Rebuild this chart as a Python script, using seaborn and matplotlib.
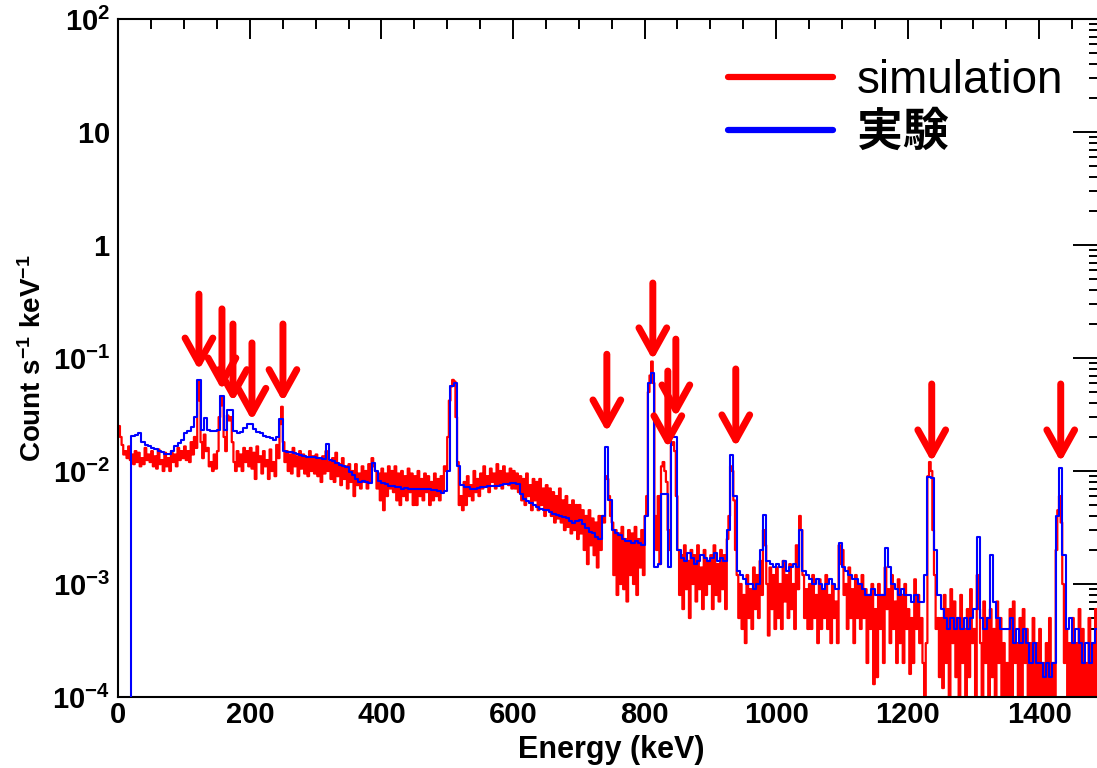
import numpy as np
import pandas as pd
import matplotlib
matplotlib.use("Agg")
import matplotlib.pyplot as plt
import seaborn as sns
from matplotlib.ticker import MultipleLocator, LogLocator, NullFormatter
from matplotlib.lines import Line2D

# ---------------- data (values in units of 1e-4 count s^-1 keV^-1) -------------
EXP_BIN_KEV = 5.0   # experiment histogram bin width
SIM_BIN_KEV = 2.5   # simulation histogram bin width

exp_e4 = [
    0, 0, 0, 0, 205, 210, 215, 180, 170, 165,
    160, 155, 150, 148, 142, 140, 150, 165, 178, 190,
    215, 225, 245, 300, 640, 230, 295, 230, 225, 225,
    230, 460, 230, 350, 345, 225, 215, 220, 240, 262,
    258, 235, 222, 215, 205, 200, 195, 190, 200, 290,
    150, 148, 146, 143, 140, 138, 136, 134, 133, 132,
    131, 130, 128, 172, 125, 122, 118, 114, 110, 108,
    98, 92, 85, 80, 82, 80, 78, 118, 100, 82,
    78, 76, 74, 74, 72, 72, 70, 71, 70, 70,
    70, 70, 69, 70, 70, 68, 68, 66, 64, 66,
    100, 560, 600, 110, 75, 72, 72, 70, 70, 71,
    72, 72, 73, 73, 74, 74, 75, 76, 77, 78,
    78, 76, 62, 56, 54, 52, 50, 48, 46, 45,
    45, 43, 42, 41, 40, 39, 38, 36, 35, 36,
    37, 34, 31, 29, 28, 26, 25, 40, 163, 55,
    30, 28, 27, 25, 24, 24, 23, 24, 23, 22,
    40, 600, 740, 14, 15, 63, 63, 14, 200, 200,
    20, 17, 16, 19, 17, 15, 16, 18, 17, 16,
    17, 19, 16, 17, 16, 30, 138, 60, 13, 12,
    11, 10, 10, 9, 10, 20, 41, 16, 15, 14,
    15, 14, 16, 13, 14, 15, 14, 30, 13, 12,
    11, 10, 11, 10, 9, 10, 11, 10, 9, 23,
    14, 13, 12, 11, 11, 10, 9, 8, 8, 9,
    8, 8, 8, 21, 14, 10, 9, 8, 9, 8,
    8, 7, 8, 7, 7, 12, 89, 86, 20, 8,
    6, 5, 4, 5, 4, 5, 4, 5, 4, 5,
    6, 26, 5, 4, 5, 18, 7, 5, 4, 4,
    4, 5, 3, 4, 3, 4, 3, 2, 3, 2,
    2, 1.5, 2, 1.5, 2, 40, 106, 18, 4, 5,
    3, 4, 3, 2, 3, 2, 3, 4, 3, 2,
]

sim_e4 = [
    250, 200, 170, 140, 150, 130, 165, 125, 140, 115, 150, 120, 145, 110, 130, 115, 160, 125, 140, 120,
    150, 110, 135, 105, 155, 115, 125, 100, 145, 110, 130, 100, 150, 120, 140, 110, 160, 125, 150, 130,
    165, 125, 150, 120, 180, 140, 200, 160, 420, 620, 180, 130, 210, 150, 160, 110, 120, 100, 140, 105,
    150, 300, 460, 380, 200, 150, 310, 280, 300, 180, 120, 100, 150, 110, 140, 100, 160, 120, 150, 110,
    160, 105, 145, 85, 165, 120, 135, 95, 150, 110, 125, 85, 155, 100, 120, 90, 170, 130, 260, 370,
    180, 120, 150, 100, 140, 95, 160, 110, 135, 90, 150, 105, 140, 95, 130, 90, 150, 100, 135, 95,
    140, 90, 125, 80, 135, 95, 150, 100, 120, 85, 130, 80, 145, 90, 115, 75, 130, 85, 110, 70,
    115, 80, 100, 60, 115, 75, 95, 70, 110, 80, 100, 70, 115, 80, 130, 110, 100, 70, 95, 55,
    105, 45, 95, 60, 110, 70, 100, 65, 110, 55, 95, 50, 100, 60, 90, 55, 105, 65, 95, 50,
    90, 50, 100, 60, 85, 55, 95, 65, 90, 50, 80, 55, 95, 60, 85, 55, 90, 65, 110, 100,
    200, 420, 560, 640, 620, 300, 120, 50, 60, 45, 80, 50, 90, 60, 75, 55, 100, 65, 85, 60,
    95, 70, 110, 75, 90, 65, 105, 80, 95, 70, 115, 75, 100, 70, 110, 80, 95, 75, 105, 70,
    100, 70, 95, 65, 90, 55, 85, 50, 95, 60, 75, 45, 85, 55, 80, 45, 85, 50, 70, 40,
    75, 45, 70, 40, 65, 35, 60, 38, 70, 35, 55, 30, 60, 32, 50, 28, 55, 30, 50, 25,
    50, 28, 45, 20, 40, 15, 45, 22, 38, 18, 35, 14, 40, 20, 40, 35, 90, 85, 60, 40,
    35, 12, 30, 8, 28, 10, 32, 9, 25, 7, 30, 12, 28, 10, 32, 8, 25, 14, 30, 12,
    40, 60, 500, 700, 930, 600, 40, 20, 60, 15, 110, 120, 100, 80, 30, 20, 170, 180, 150, 60,
    20, 8, 18, 6, 22, 9, 16, 5, 20, 10, 18, 7, 22, 9, 14, 6, 20, 8, 16, 10,
    18, 6, 22, 8, 15, 7, 20, 9, 18, 6, 25, 40, 110, 100, 55, 20, 12, 5, 10, 4,
    8, 3, 12, 5, 9, 4, 14, 6, 12, 5, 16, 8, 30, 22, 10, 3.5, 14, 6, 12, 4,
    14, 5, 10, 4, 16, 7, 12, 5, 15, 6, 10, 4, 22, 9, 40, 30, 12, 5, 9, 4,
    10, 4, 12, 5, 8, 3, 11, 4, 9, 5, 12, 4, 8, 3, 10, 5, 7, 3, 22, 15,
    20, 8, 10, 4, 14, 5, 9, 3, 12, 5, 10, 4, 12, 5, 9, 2, 8, 4, 10, 1.3,
    6, 1.5, 10, 4, 8, 2, 14, 6, 9, 3, 12, 4, 7, 2, 11, 3, 8, 2, 10, 4,
    6, 1.6, 5, 2, 11, 4, 8, 3, 5, 2, 0, 3, 90, 120, 100, 30, 12, 4, 5, 1.5,
    5, 1.2, 8, 2, 6, 1, 9, 3, 7, 1.5, 5, 1, 8, 2, 4, 0.8, 6, 1.5, 9, 3,
    4, 1, 12, 6, 3, 0.8, 7, 2, 5, 0.5, 6, 1.5, 4, 0, 7, 2, 5, 0.8, 3, 0,
    2, 0, 6, 1, 7, 2, 3, 0, 5, 1, 6, 2, 4, 0.5, 3, 0, 5, 1, 3, 0,
    4, 0, 2, 0, 3, 0, 5, 1, 2, 0, 20, 45, 60, 35, 10, 2, 4, 0, 3, 0.5,
    5, 0, 3, 0, 6, 1, 4, 0, 2, 0, 5, 1, 3, 0, 6, 1, 2, 0, 4, 0,
]

# peak markers (energy in keV, arrow tip value, arrow tail value)
arrow_energy = [122.6, 157.6, 174.3, 203.2, 250.3, 742.7, 812.6, 835.4, 847.6, 938.7, 1236.6, 1432.7]
arrow_tip = [0.078, 0.052, 0.041, 0.028, 0.041, 0.0221, 0.096, 0.016, 0.030, 0.0163, 0.012, 0.012]
arrow_tail = [0.368, 0.272, 0.20, 0.136, 0.20, 0.108, 0.461, 0.0767, 0.147, 0.080, 0.0589, 0.0589]

x_ticks = [0, 200, 400, 600, 800, 1000, 1200, 1400]
y_ticks = [1e-4, 1e-3, 1e-2, 1e-1, 1, 10, 100]
y_tick_labels = [r"$\mathbf{10^{-4}}$", r"$\mathbf{10^{-3}}$", r"$\mathbf{10^{-2}}$",
                 r"$\mathbf{10^{-1}}$", r"$\mathbf{1}$", r"$\mathbf{10}$", r"$\mathbf{10^{2}}$"]
series_labels = ["simulation", "実験"]
series_colors = ["#ff0000", "#0000ff"]

# ---------------- style ----------------
sns.set_style("white")
plt.rcParams["font.family"] = ["Liberation Sans", "Noto Sans CJK JP"]
plt.rcParams["mathtext.fontset"] = "custom"
plt.rcParams["mathtext.rm"] = "Liberation Sans"
plt.rcParams["mathtext.bf"] = "Liberation Sans:bold"
plt.rcParams["mathtext.it"] = "Liberation Sans:italic"
for k in ["text.color", "axes.labelcolor", "xtick.color", "ytick.color", "axes.edgecolor"]:
    plt.rcParams[k] = "black"

exp_vals = np.asarray(exp_e4, dtype=float) * 1e-4
sim_vals = np.asarray(sim_e4, dtype=float) * 1e-4
df_exp = pd.DataFrame({"Energy": np.arange(len(exp_vals) + 1) * EXP_BIN_KEV,
                       "rate": np.append(exp_vals, exp_vals[-1])})
df_sim = pd.DataFrame({"Energy": np.arange(len(sim_vals) + 1) * SIM_BIN_KEV,
                       "rate": np.append(sim_vals, sim_vals[-1])})

W, H = 1097, 768
fig = plt.figure(figsize=(W / 100, H / 100), dpi=100)
ax_l, ax_r, ax_t, ax_b = 118.3, 1105.0, 19.0, 697.0
ax = fig.add_axes([ax_l / W, 1 - ax_b / H, (ax_r - ax_l) / W, (ax_b - ax_t) / H])

sns.lineplot(data=df_sim, x="Energy", y="rate", drawstyle="steps-post",
             color=series_colors[0], lw=1.6, estimator=None, ax=ax, zorder=2)
sns.lineplot(data=df_exp, x="Energy", y="rate", drawstyle="steps-post",
             color=series_colors[1], lw=1.5, estimator=None, ax=ax, zorder=3)

ax.set_yscale("log", nonpositive="clip")
ax.set_xlim(0, 1500)
ax.set_ylim(1e-4, 1e2)

for e, tip, tail in zip(arrow_energy, arrow_tip, arrow_tail):
    ax.annotate("", xy=(e, tip), xytext=(e, tail),
                arrowprops=dict(arrowstyle="->,head_length=0.9,head_width=0.5",
                                color="#ff0000", lw=5, shrinkA=0, shrinkB=0,
                                mutation_scale=20), zorder=5)

# ticks
ax.set_xticks(x_ticks)
ax.set_xticklabels([str(t) for t in x_ticks], fontweight="bold", fontsize=21)
ax.xaxis.set_minor_locator(MultipleLocator(50))
ax.set_yticks(y_ticks)
ax.set_yticklabels(y_tick_labels, fontsize=21)
ax.yaxis.set_minor_locator(LogLocator(base=10, subs=np.arange(2, 10), numticks=20))
ax.yaxis.set_minor_formatter(NullFormatter())
ax.tick_params(which="both", direction="in", top=True, right=True,
               color="black", labelcolor="black")
ax.tick_params(axis="y", which="major", length=23, width=1.4, pad=6)
ax.tick_params(axis="y", which="minor", length=11.5, width=1.4)
ax.tick_params(axis="x", which="major", length=14.4, width=1.4, pad=3)
ax.tick_params(axis="x", which="minor", length=7.2, width=1.4)
for s in ax.spines.values():
    s.set_linewidth(1.5)
    s.set_color("black")

ax.set_xlabel("Energy (keV)", fontsize=22, fontweight="bold")
ax.set_ylabel(r"Count s$^{\mathbf{-1}}$ keV$^{\mathbf{-1}}$", fontsize=20, fontweight="bold")
ax.xaxis.set_label_coords(0.5, -0.056)
ax.yaxis.set_label_coords(-0.072, 0.5)

handles = [Line2D([], [], color=c, lw=4.5) for c in series_colors]
leg = ax.legend(handles, series_labels, loc="upper left",
                bbox_to_anchor=(728 / W, 1 - 59 / H), bbox_transform=fig.transFigure,
                frameon=False, fontsize=33, handlelength=2.29, handletextpad=0.52,
                labelspacing=0.2, borderpad=0, borderaxespad=0)
leg.get_texts()[1].set_fontweight("bold")

fig.savefig("out.png", dpi=100)
